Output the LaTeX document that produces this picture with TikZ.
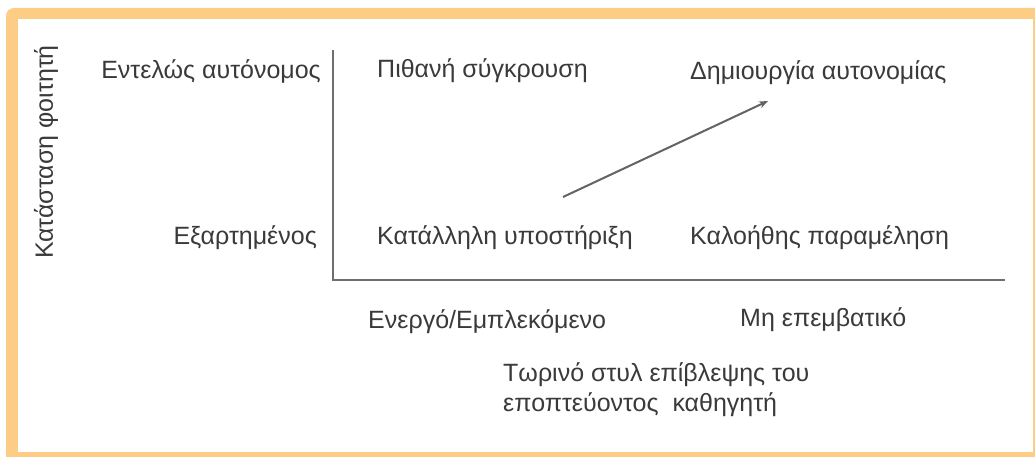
\documentclass[tikz,border=0pt]{standalone}
\usepackage{fontspec}
\setmainfont{Liberation Sans}
\definecolor{frameor}{HTML}{FDCC85}
\definecolor{txt}{HTML}{3A3A3A}
\definecolor{axis}{HTML}{6E6E6E}
\tikzset{
  lbl/.style={font=\fontsize{25}{29}\selectfont, text=txt, inner sep=0pt, anchor=west},
  axisline/.style={draw=axis, line width=2.2pt},
  trend/.style={draw=axis!90!black, line width=2pt, -{Stealth[length=9pt,width=7pt]}}
}
\usetikzlibrary{arrows.meta}
\begin{document}
\begin{tikzpicture}[x=1pt,y=-1pt]
\useasboundingbox (0,0) rectangle (1035,457);
\fill[white] (0,0) rectangle (1035,457);
\fill[frameor, rounded corners=8pt] (6,8) rectangle (1060,480);
\fill[white] (18,19) rectangle (1033,452);
% axes
\coordinate (o) at (333,280);
\coordinate (ytop) at (333,50);
\coordinate (xend) at (1005,280);
\draw[axisline] (ytop) -- (o) -- (xend);
% labels
\node[lbl, anchor=east] (ea) at (321,71) {Εντελώς αυτόνομος};
\node[lbl] (ps) at (377,71) {Πιθανή σύγκρουση};
\node[lbl] (da) at (690,73) {Δημιουργία αυτονομίας};
\node[lbl, anchor=east] (ex) at (317,238) {Εξαρτημένος};
\node[lbl] (ky) at (377,238) {Κατάλληλη υποστήριξη};
\node[lbl] (kp) at (690,238) {Καλοήθης παραμέληση};
\node[lbl] (ee) at (368,322) {Ενεργό/Εμπλεκόμενο};
\node[lbl] (me) at (740,320) {Μη επεμβατικό};
\node[lbl, align=left, anchor=north west, font=\fontsize{25}{30}\selectfont] (ts) at (503,362) {Τωρινό στυλ επίβλεψης του\\εποπτεύοντος\ \ καθηγητή};
\node[lbl, rotate=90, anchor=center] (kf) at (46,152) {Κατάσταση φοιτητή};
% arrow
\coordinate (a1) at (563,197);
\coordinate (a2) at (768,101);
\draw[trend] (a1) -- (a2);
\end{tikzpicture}
\end{document}
